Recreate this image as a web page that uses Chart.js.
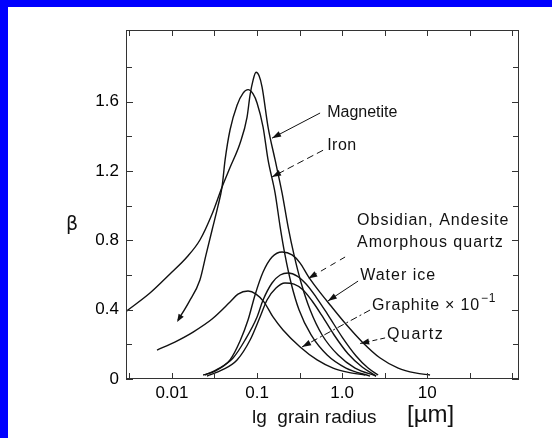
<!DOCTYPE html>
<html>
<head>
<meta charset="utf-8">
<script src="https://cdn.jsdelivr.net/npm/chart.js@4.4.1/dist/chart.umd.min.js"></script>
<style>
  html, body { margin: 0; padding: 0; background: #0000ff; }
  #wrap { position: absolute; left: 8px; top: 7px; width: 544px; height: 431px; background: #fff; }
</style>
</head>
<body>
<div id="wrap"><canvas id="beta" width="544" height="431"></canvas></div>
<script>
// grain radius in micrometres, beta = radiation pressure / gravity
var magnetiteR = [0.00292, 0.00551, 0.00947, 0.0150, 0.0213, 0.0296, 0.0388, 0.0481, 0.0631, 0.0762, 0.0828, 0.0898, 0.0973, 0.1056, 0.1146, 0.1347, 0.163, 0.197, 0.232, 0.272, 0.330, 0.421, 0.582, 0.897, 1.42, 2.51];
var magnetiteB = [0.392, 0.496, 0.606, 0.704, 0.802, 0.952, 1.108, 1.22, 1.36, 1.51, 1.64, 1.725, 1.77, 1.75, 1.685, 1.454, 1.264, 1.073, 0.877, 0.716, 0.554, 0.398, 0.254, 0.138, 0.063, 0.017];

var ironR = [0.0118, 0.0158, 0.0213, 0.0251, 0.0296, 0.0348, 0.0388, 0.0421, 0.0481, 0.0582, 0.0685, 0.0783, 0.0898, 0.1, 0.1177, 0.1347, 0.163, 0.187, 0.213, 0.251, 0.312, 0.432, 0.667, 1.11, 2.13];
var ironB = [0.34, 0.444, 0.571, 0.716, 0.86, 1.00, 1.11, 1.264, 1.437, 1.58, 1.65, 1.67, 1.645, 1.593, 1.454, 1.264, 1.073, 0.877, 0.716, 0.554, 0.398, 0.254, 0.138, 0.063, 0.017];

var graphiteR = [0.00667, 0.0108, 0.0177, 0.0296, 0.0481, 0.0597, 0.0783, 0.0973, 0.121, 0.154, 0.202, 0.321, 0.508, 0.783, 1.15, 1.87];
var graphiteB = [0.167, 0.2135, 0.271, 0.346, 0.444, 0.49, 0.508, 0.49, 0.444, 0.358, 0.283, 0.185, 0.11, 0.063, 0.04, 0.023];

var quartzR = [0.0232, 0.0321, 0.0481, 0.0631, 0.0783, 0.0947, 0.1177, 0.150, 0.197, 0.258, 0.321, 0.398, 0.522, 0.723, 1.08, 1.72, 2.80, 4.56, 7.23, 10.8];
var quartzB = [0.023, 0.046, 0.110, 0.219, 0.340, 0.485, 0.617, 0.704, 0.733, 0.716, 0.669, 0.594, 0.514, 0.427, 0.323, 0.214, 0.121, 0.063, 0.035, 0.023];

var obsidianR = [0.0244, 0.0348, 0.0522, 0.0723, 0.1, 0.1177, 0.150, 0.187, 0.232, 0.296, 0.377, 0.494, 0.684, 1.0, 1.46, 2.02, 2.65];
var obsidianB = [0.023, 0.058, 0.121, 0.225, 0.358, 0.456, 0.554, 0.600, 0.612, 0.594, 0.548, 0.473, 0.369, 0.242, 0.133, 0.063, 0.023];

var iceR = [0.0258, 0.0388, 0.0582, 0.0828, 0.1084, 0.131, 0.167, 0.213, 0.272, 0.348, 0.444, 0.582, 0.805, 1.18, 1.72, 2.51];
var iceB = [0.017, 0.052, 0.110, 0.225, 0.358, 0.456, 0.525, 0.554, 0.548, 0.514, 0.450, 0.364, 0.254, 0.144, 0.069, 0.017];

var xTickValues = [0.01, 0.1, 1, 10];
var xTickLabels = ['0.01', '0.1', '1.0', '10'];
var xMinorTicks = [0.00316, 0.0316, 0.316, 3.16, 31.6, 100];
var yTickValues = [0, 0.4, 0.8, 1.2, 1.6];
var yTickLabels = ['0', '0.4', '0.8', '1.2', '1.6'];
var yMinorTicks = [0.2, 0.6, 1.0, 1.4, 1.8];

var INK = '#111';
var FONT = '"Liberation Sans", Arial, sans-serif';

function pts(r, b) {
  return r.map(function (v, i) { return { x: v, y: b[i] }; });
}

function curve(label, r, b) {
  return {
    label: label, data: pts(r, b),
    borderColor: INK, borderWidth: 1.4, pointRadius: 0,
    cubicInterpolationMode: 'monotone', fill: false
  };
}

function findLabel(values, labels, v) {
  for (var i = 0; i < values.length; i++) {
    if (Math.abs(values[i] - v) < 1e-6 * Math.max(1, values[i])) return labels[i];
  }
  return '';
}

// labels with leader lines; at = text anchor, from/to = leader ends (data coords)
var notes = [
  { text: 'Magnetite', at: [0.667, 1.54], from: [0.551, 1.535], to: [0.150, 1.39], dash: [], spacing: 0 },
  { text: 'Iron', at: [0.667, 1.345], from: [0.597, 1.32], to: [0.150, 1.166], dash: [7, 4], spacing: 0.5 },
  { text: 'Obsidian, Andesite', at: [1.5, 0.912], spacing: 1 },
  { text: 'Amorphous quartz', at: [1.5, 0.79], from: [1.084, 0.704], to: [0.40, 0.58], dash: [6, 5], spacing: 1 },
  { text: 'Water ice', at: [1.63, 0.594], from: [1.54, 0.565], to: [0.68, 0.45], dash: [], spacing: 1 },
  { text: 'Graphite \u00d7 10', sup: '\u22121', at: [2.25, 0.421], from: [2.13, 0.398], to: [0.338, 0.185], dash: [7, 3, 2, 3], spacing: 0.8 },
  { text: 'Quartz', at: [3.38, 0.254], from: [3.2, 0.237], to: [1.63, 0.205], dash: [5, 3], spacing: 1.5 }
];

function arrowHead(ctx, x0, y0, x1, y1, len, half) {
  var a = Math.atan2(y1 - y0, x1 - x0);
  ctx.beginPath();
  ctx.moveTo(x1, y1);
  ctx.lineTo(x1 - len * Math.cos(a) + half * Math.sin(a), y1 - len * Math.sin(a) - half * Math.cos(a));
  ctx.lineTo(x1 - len * Math.cos(a) - half * Math.sin(a), y1 - len * Math.sin(a) + half * Math.cos(a));
  ctx.closePath();
  ctx.fill();
}

var decorations = {
  id: 'decorations',
  afterDatasetsDraw: function (chart) {
    var ctx = chart.ctx, a = chart.chartArea;
    var xs = chart.scales.x, ys = chart.scales.y;
    ctx.save();
    ctx.strokeStyle = '#333';
    ctx.fillStyle = INK;
    ctx.lineWidth = 1;

    // frame
    ctx.strokeRect(a.left + 0.5, a.top + 0.5, a.right - a.left - 1, a.bottom - a.top - 1);

    // inward tick marks on all four sides
    ctx.beginPath();
    ys.ticks.forEach(function (t) {
      var py = Math.round(ys.getPixelForValue(t.value)) + 0.5;
      var len = findLabel(yTickValues, yTickLabels, t.value) ? 7 : 6;
      ctx.moveTo(a.left, py); ctx.lineTo(a.left + len, py);
      ctx.moveTo(a.right, py); ctx.lineTo(a.right - len, py);
    });
    xs.ticks.forEach(function (t) {
      var px = Math.round(xs.getPixelForValue(t.value)) + 0.5;
      ctx.moveTo(px, a.bottom); ctx.lineTo(px, a.bottom - 6);
      ctx.moveTo(px, a.top); ctx.lineTo(px, a.top + 6);
    });
    ctx.stroke();

    // open end of the iron curve
    var meta = chart.getDatasetMeta(1).data;
    ctx.lineWidth = 1.4;
    arrowHead(ctx, meta[1].x, meta[1].y, meta[0].x - 1, meta[0].y + 2, 8, 3);

    // material labels and leaders
    ctx.textBaseline = 'middle';
    ctx.textAlign = 'left';
    notes.forEach(function (n) {
      var tx = xs.getPixelForValue(n.at[0]), ty = ys.getPixelForValue(n.at[1]);
      ctx.font = '16px ' + FONT;
      ctx.letterSpacing = n.spacing + 'px';
      ctx.fillText(n.text, tx, ty);
      if (n.sup) {
        var w = ctx.measureText(n.text).width;
        ctx.font = '12px ' + FONT;
        ctx.fillText(n.sup, tx + w + 1, ty - 7);
      }
      ctx.letterSpacing = '0px';
      if (n.from) {
        var x0 = xs.getPixelForValue(n.from[0]), y0 = ys.getPixelForValue(n.from[1]);
        var x1 = xs.getPixelForValue(n.to[0]), y1 = ys.getPixelForValue(n.to[1]);
        ctx.strokeStyle = INK;
        ctx.lineWidth = 1;
        ctx.setLineDash(n.dash);
        ctx.beginPath(); ctx.moveTo(x0, y0); ctx.lineTo(x1, y1); ctx.stroke();
        ctx.setLineDash([]);
        arrowHead(ctx, x0, y0, x1, y1, 9, 3);
      }
    });

    // axis titles
    ctx.textBaseline = 'alphabetic';
    ctx.font = '19px ' + FONT;
    ctx.fillText('lg  grain radius', a.left + 126, 416);
    ctx.font = '24px ' + FONT;
    ctx.fillText('[\u00b5m]', a.left + 281, 415);
    ctx.font = '19px "DejaVu Sans", sans-serif';
    ctx.textAlign = 'center';
    ctx.textBaseline = 'middle';
    ctx.fillText('\u03b2', 64, 218);
    ctx.restore();
  }
};

new Chart(document.getElementById('beta'), {
  type: 'line',
  data: {
    datasets: [
      curve('Magnetite', magnetiteR, magnetiteB),
      curve('Iron', ironR, ironB),
      curve('Graphite x 0.1', graphiteR, graphiteB),
      curve('Quartz', quartzR, quartzB),
      curve('Obsidian, Andesite, Amorphous quartz', obsidianR, obsidianB),
      curve('Water ice', iceR, iceB)
    ]
  },
  options: {
    responsive: false,
    animation: false,
    layout: { padding: { left: 0, right: 33, top: 23, bottom: 0 } },
    plugins: { legend: { display: false }, tooltip: { enabled: false } },
    scales: {
      x: {
        type: 'logarithmic',
        min: 0.00288,
        max: 120,
        afterBuildTicks: function (axis) {
          axis.ticks = xTickValues.concat(xMinorTicks).sort(function (p, q) { return p - q; })
            .map(function (v) { return { value: v }; });
        },
        afterFit: function (s) { s.height = 59; },
        grid: { display: false, drawTicks: false },
        border: { display: false },
        ticks: {
          autoSkip: false, maxRotation: 0, padding: 4, color: '#000',
          font: { family: FONT, size: 17 },
          callback: function (v) { return findLabel(xTickValues, xTickLabels, v); }
        }
      },
      y: {
        min: 0,
        max: 2.014,
        afterBuildTicks: function (axis) {
          axis.ticks = yTickValues.concat(yMinorTicks).sort(function (p, q) { return p - q; })
            .map(function (v) { return { value: v }; });
        },
        afterFit: function (s) { s.width = 118; },
        grid: { display: false, drawTicks: false },
        border: { display: false },
        ticks: {
          autoSkip: false, padding: 7, color: '#000',
          font: { family: FONT, size: 17 },
          callback: function (v) { return findLabel(yTickValues, yTickLabels, v); }
        }
      }
    }
  },
  plugins: [decorations]
});
</script>
</body>
</html>
